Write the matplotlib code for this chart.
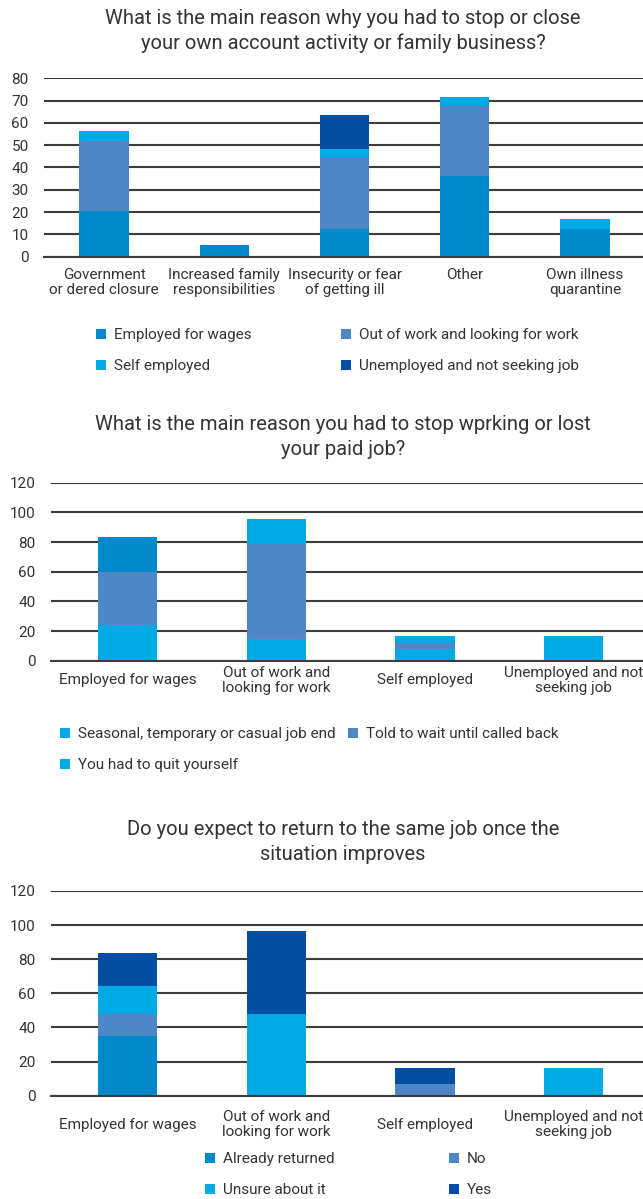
import matplotlib
matplotlib.use("Agg")
from matplotlib import pyplot as plt

plt.rcParams['font.family'] = ['Roboto', 'DejaVu Sans']

# colours used by the source charts
C_WAGES = '#0088CC'
C_OUTWORK = '#4F86C6'
C_SELF = '#00AAE4'
C_UNEMP = '#034EA2'
TEXT = '#333333'
GRID = '#3c3c3c'

# chart 1 data
reasons_close = ['Government\nor dered closure', 'Increased family\nresponsibilities',
                 'Insecurity or fear\nof getting ill', 'Other', 'Own illness\nquarantine']
close_wages = [20.5, 5.2, 12.4, 36.2, 12.4]
close_outwork = [31.4, 0, 32.0, 31.5, 0]
close_self = [4.5, 0, 3.9, 3.9, 4.5]
close_unemp = [0, 0, 15.2, 0, 0]

# chart 2 data
job_groups = ['Employed for wages', 'Out of work and\nlooking for work',
              'Self employed', 'Unemployed and not\nseeking job']
stop_seasonal = [24.0, 14.6, 7.9, 16.9]
stop_told = [35.8, 64.3, 4.0, 0]
stop_quit = [23.6, 16.6, 5.0, 0]

# chart 3 data
ret_already = [35.2, 0, 0, 0]
ret_no = [12.9, 0, 6.8, 0]
ret_unsure = [16.2, 48.1, 0, 16.2]
ret_yes = [19.3, 48.4, 9.4, 0]

W, H = 643, 1199
FS = 11
fig = plt.figure(figsize=(W / 100, H / 100), dpi=100)


def px(x, y):
    return x / W, 1 - y / H


def make_axes(left, top, right, bottom):
    l, t = px(left, top)
    r, b = px(right, bottom)
    return fig.add_axes([l, b, r - l, t - b])


def stack(ax, cats, series, width):
    xs = range(len(cats))
    base = [0] * len(cats)
    conts = []
    for vals, col, lab in series:
        c = ax.bar(xs, vals, width, bottom=base, color=col, label=lab, linewidth=0, zorder=3)
        conts.append(c)
        base = [a + b for a, b in zip(base, vals)]
    return conts


def style(ax, yticks, ylim, xlim):
    ax.set_ylim(*ylim)
    ax.set_xlim(*xlim)
    ax.set_yticks(yticks)
    for s in ['top', 'right', 'left']:
        ax.spines[s].set_visible(False)
    ax.spines['bottom'].set_color(GRID)
    ax.spines['bottom'].set_linewidth(1.5)
    ax.spines['bottom'].set_zorder(4)
    ax.yaxis.grid(True, color=GRID, linewidth=1.5, zorder=0)
    ax.tick_params(axis='both', length=0, labelsize=FS, labelcolor=TEXT)
    ax.tick_params(axis='y', pad=11)


def title(text, y_center):
    fig.text(343 / W, 1 - y_center / H, text, ha='center', va='center',
             fontsize=14.5, color=TEXT, linespacing=1.35, multialignment='center')


def legend_entry(handle, label, x, y):
    fig.legend([handle], [label], loc='center left', bbox_to_anchor=px(x, y),
               frameon=False, borderpad=0, borderaxespad=0, fontsize=FS,
               handlelength=0.65, handleheight=0.65, handletextpad=0.5,
               labelcolor=TEXT)


# ---- chart 1
title('What is the main reason why you had to stop or close\nyour own account activity or family business?', 31)
ax1 = make_axes(44, 78.3, 645, 256.7)
c1 = stack(ax1, reasons_close, [(close_wages, C_WAGES, 'Employed for wages'),
                                (close_outwork, C_OUTWORK, 'Out of work and looking for work'),
                                (close_self, C_SELF, 'Self employed'),
                                (close_unemp, C_UNEMP, 'Unemployed and not seeking job')], 0.41)
style(ax1, range(0, 81, 10), (0, 80), (-0.5, 4.5))
ax1.set_xticks(range(len(reasons_close)))
ax1.set_xticklabels(reasons_close, linespacing=1.1)
ax1.tick_params(axis='x', pad=8)
for c, (x, y) in zip(c1, [(96, 335), (341, 335), (96, 366), (341, 366)]):
    legend_entry(c.patches[-1], c.get_label(), x, y)

# ---- chart 2
title('What is the main reason you had to stop wprking or lost\nyour paid job?', 437)
ax2 = make_axes(51, 482.7, 648, 660.7)
c2 = stack(ax2, job_groups, [(stop_seasonal, C_SELF, 'Seasonal, temporary or casual job end'),
                             (stop_told, C_OUTWORK, 'Told to wait until called back'),
                             (stop_quit, C_SELF, 'You had to quit yourself')], 0.40)
c2[2].patches[0].set_facecolor(C_WAGES)
style(ax2, range(0, 121, 20), (0, 120), (-0.515, 3.5))
ax2.set_xticks(range(len(job_groups)))
ax2.set_xticklabels(job_groups, linespacing=1.1, va='center')
ax2.tick_params(axis='x', pad=14)
for c, (x, y) in zip(c2, [(60, 734), (348, 734), (60, 765)]):
    legend_entry(c.patches[-1], c.get_label(), x, y)

# ---- chart 3
title('Do you expect to return to the same job once the\nsituation improves', 842)
ax3 = make_axes(51, 891, 648, 1095.7)
c3 = stack(ax3, job_groups, [(ret_already, C_WAGES, 'Already returned'),
                             (ret_no, C_OUTWORK, 'No'),
                             (ret_unsure, C_SELF, 'Unsure about it'),
                             (ret_yes, C_UNEMP, 'Yes')], 0.40)
style(ax3, range(0, 121, 20), (0, 120), (-0.515, 3.5))
ax3.set_xticks(range(len(job_groups)))
ax3.set_xticklabels(job_groups, linespacing=1.1, va='center')
ax3.tick_params(axis='x', pad=21)
for c, (x, y) in zip(c3, [(205, 1159), (449, 1159), (205, 1190), (449, 1190)]):
    legend_entry(c.patches[0], c.get_label(), x, y)

fig.savefig('out.png', dpi=100)
